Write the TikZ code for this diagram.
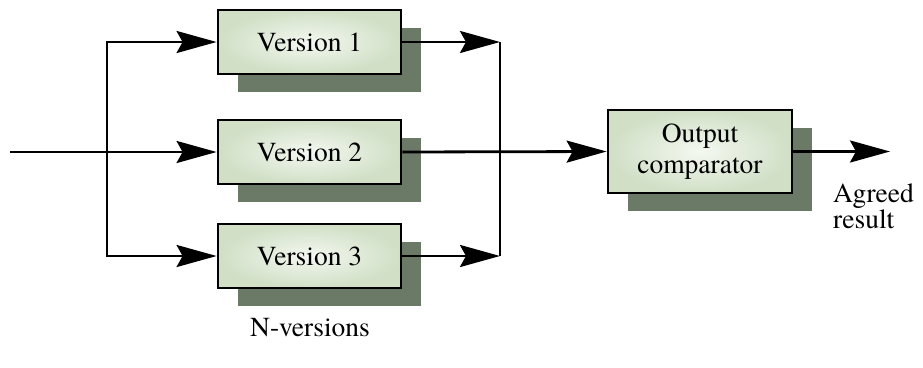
\documentclass[tikz,border=0pt]{standalone}
\usepackage{fontspec}
\setmainfont{TeX Gyre Termes}
\usetikzlibrary{arrows.meta,shadows}
\definecolor{shadowc}{HTML}{6B7A66}
\definecolor{boxin}{HTML}{F4F8F0}
\definecolor{boxout}{HTML}{D0DFC6}
\begin{document}
\begin{tikzpicture}[x=1pt,y=-1pt,
  box/.style={draw, line width=2.8pt, inner color=boxin, outer color=boxout,
    minimum width=183pt, minimum height=64pt, inner sep=0pt,
    font=\fontsize{27.5}{31}\selectfont,
    drop shadow={shadow xshift=20pt, shadow yshift=-18pt, fill=shadowc, opacity=1, draw=none}},
  conn/.style={line width=2.8pt},
  arr/.style={conn, -{Stealth[length=40pt,width=22pt,inset=6pt]}},
  lbl/.style={font=\fontsize{27.5}{26}\selectfont, inner sep=0pt}]
\useasboundingbox (0,0) rectangle (923,367);
\node[box] (v1) at (309.5,42) {Version 1};
\node[box] (v2) at (309.5,152) {Version 2};
\node[box] (v3) at (309.5,256) {Version 3};
\node[box, minimum width=184pt, minimum height=83pt, align=center] (oc) at (700,151.5) {Output\\comparator};
\coordinate (in) at (10,152);
\coordinate (j) at (107,152);
\coordinate (m) at (500,152);
\coordinate (out) at (890,151.5);
\draw[arr] (in) -- (v2.west);
\draw[arr] (j) |- (v1.west);
\draw[arr] (j) |- (v3.west);
\draw[arr] (v1.east) -- (v1.east -| m);
\draw[arr] (v3.east) -- (v3.east -| m);
\draw[conn] (v1.east -| m) -- (v3.east -| m);
\draw[arr] (v2.east) -- (oc.west);
\draw[arr] (oc.east) -- (out);
\node[lbl, align=left, anchor=north west] (ag) at (833,184) {Agreed\\result};
\node[lbl] (nv) at (310,328) {N-versions};
\end{tikzpicture}
\end{document}
